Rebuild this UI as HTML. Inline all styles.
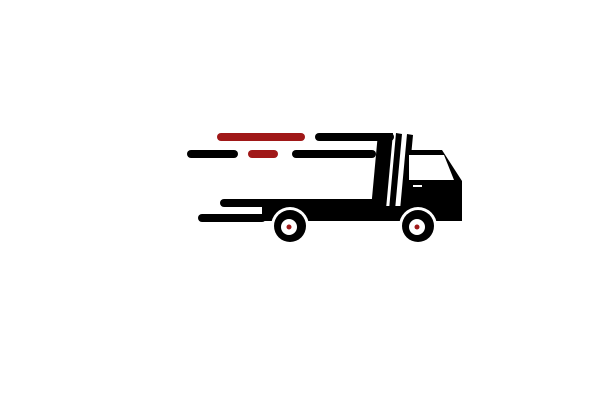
<!DOCTYPE html>
<html><head><style>html,body{margin:0;padding:0;background:#fff;width:613px;height:407px;overflow:hidden}</style></head>
<body>
<svg width="613" height="407" viewBox="0 0 613 407" xmlns="http://www.w3.org/2000/svg">
<g stroke-linecap="round" stroke-width="8">
<line x1="221" y1="137" x2="301" y2="137" stroke="#a01818"/>
<line x1="252" y1="154" x2="274" y2="154" stroke="#a01818"/>
<line x1="191" y1="154" x2="234" y2="154" stroke="#000"/>
<line x1="296" y1="154" x2="372" y2="154" stroke="#000"/>
<line x1="319" y1="137" x2="390" y2="137" stroke="#000"/>
<line x1="224" y1="203" x2="372" y2="203" stroke="#000"/>
<line x1="202" y1="218" x2="262" y2="218" stroke="#000"/>
</g>
<polygon points="378,133 393,133 386,209 371,209" fill="#000"/>
<polygon points="396,133 402,134 395,210 389,210" fill="#000"/>
<polygon points="407,134 413,135 406,210 400,210" fill="#000"/>
<rect x="262" y="206" width="200" height="15" fill="#000"/>
<path d="M410,150 L442,150 L462,181 L462,213 L404,213 Z" fill="#000"/>
<path d="M409,155 L444,155 L454,180 L409,180 Z" fill="#fff"/>
<rect x="413" y="185" width="9" height="2" fill="#fff"/>
<circle cx="290" cy="226" r="19" fill="#fff"/>
<circle cx="290" cy="226" r="16" fill="#000"/>
<circle cx="289" cy="227" r="8" fill="#fff"/>
<circle cx="289" cy="227" r="2.5" fill="#a01818"/>
<circle cx="418" cy="226" r="19" fill="#fff"/>
<circle cx="418" cy="226" r="16" fill="#000"/>
<circle cx="417" cy="227" r="8" fill="#fff"/>
<circle cx="417" cy="227" r="2.5" fill="#a01818"/>
</svg>
</body></html>
